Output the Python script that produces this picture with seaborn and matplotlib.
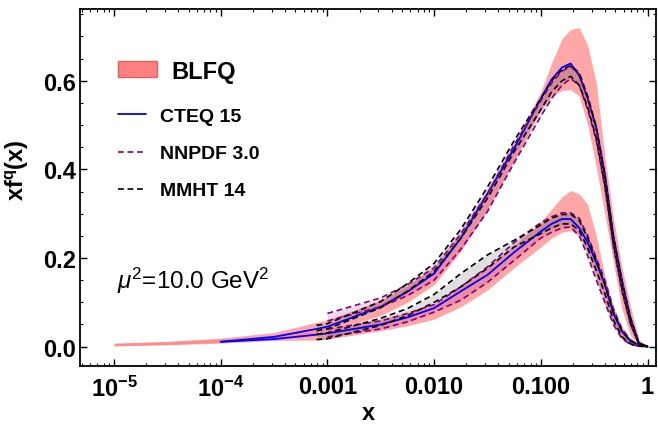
import numpy as np
import pandas as pd
import matplotlib
matplotlib.use("Agg")
import matplotlib.pyplot as plt
import matplotlib.ticker as mtick
from matplotlib.patches import Patch
from matplotlib.lines import Line2D
import seaborn as sns

nan = np.nan

# ============================================================
# DATA
# ============================================================
X = [1e-5, 3.16e-5, 1e-4, 3.16e-4, 7.9e-4, 1e-3, 3.16e-3, 5.62e-3, 1e-2, 0.0178, 0.0316,
     0.0562, 0.1, 0.126, 0.158, 0.19, 0.229, 0.275, 0.331, 0.398, 0.479,
     0.575, 0.692, 0.832, 1.0]

# BLFQ bands (upper family = u, lower family = d)
BLFQ_U_LO = [0.002, 0.005, 0.010, 0.018, 0.030, 0.034, 0.070, 0.100, 0.140, 0.215, 0.310,
             0.420, 0.535, 0.565, 0.578, 0.580, 0.565, 0.500, 0.405, 0.300, 0.190,
             0.085, 0.025, 0.003, 0.0]
BLFQ_U_HI = [0.008, 0.012, 0.019, 0.032, 0.055, 0.060, 0.105, 0.138, 0.180, 0.260, 0.355,
             0.460, 0.575, 0.640, 0.695, 0.716, 0.720, 0.680, 0.595, 0.430, 0.290,
             0.180, 0.090, 0.015, 0.001]
BLFQ_D_LO = [0.002, 0.004, 0.008, 0.014, 0.015, 0.017, 0.036, 0.047, 0.062, 0.090, 0.128,
             0.178, 0.225, 0.245, 0.258, 0.262, 0.250, 0.210, 0.155, 0.095, 0.045,
             0.018, 0.006, 0.002, 0.0]
BLFQ_D_HI = [0.007, 0.011, 0.017, 0.026, 0.036, 0.040, 0.062, 0.078, 0.098, 0.135, 0.178,
             0.228, 0.282, 0.310, 0.338, 0.352, 0.345, 0.320, 0.250, 0.160, 0.090,
             0.045, 0.018, 0.005, 0.001]

# CTEQ 15 central lines
CTEQ_U = [nan, nan, 0.011, 0.022, 0.040, 0.045, 0.090, 0.124, 0.165, 0.245, 0.345,
          0.447, 0.560, 0.603, 0.630, 0.639, 0.612, 0.560, 0.495, 0.390, 0.250,
          0.150, 0.065, 0.007, 0.0]
CTEQ_D = [nan, nan, 0.011, 0.017, 0.027, 0.030, 0.050, 0.066, 0.087, 0.125, 0.162,
          0.213, 0.260, 0.277, 0.288, 0.288, 0.268, 0.235, 0.190, 0.140, 0.075,
          0.035, 0.012, 0.004, 0.0]

# NNPDF 3.0 bands
NNPDF_U_LO = [nan] * 5 + [0.058, 0.090, 0.115, 0.150, 0.220, 0.305, 0.415, 0.520, 0.560, 0.590,
                          0.605, 0.590, 0.535, 0.465, 0.360, 0.225, 0.125, 0.050, 0.004, 0.0]
NNPDF_U_HI = [nan] * 5 + [0.075, 0.110, 0.140, 0.178, 0.255, 0.345, 0.455, 0.555, 0.595, 0.622,
                          0.632, 0.615, 0.560, 0.490, 0.385, 0.245, 0.145, 0.062, 0.008, 0.001]
NNPDF_D_LO = [nan] * 5 + [0.022, 0.040, 0.056, 0.078, 0.105, 0.145, 0.195, 0.245, 0.258, 0.268,
                          0.270, 0.250, 0.205, 0.150, 0.100, 0.050, 0.018, 0.005, 0.001, 0.0]
NNPDF_D_HI = [nan] * 5 + [0.040, 0.058, 0.075, 0.095, 0.135, 0.180, 0.235, 0.280, 0.293, 0.302,
                          0.302, 0.290, 0.250, 0.200, 0.150, 0.085, 0.040, 0.015, 0.004, 0.001]

# MMHT 14 bands
MMHT_U_LO = [nan] * 4 + [0.036, 0.040, 0.088, 0.125, 0.170, 0.245, 0.335, 0.440, 0.535, 0.575,
                         0.600, 0.610, 0.590, 0.540, 0.470, 0.365, 0.230, 0.130, 0.052, 0.005, 0.0]
MMHT_U_HI = [nan] * 4 + [0.048, 0.052, 0.102, 0.142, 0.188, 0.265, 0.360, 0.465, 0.560, 0.600,
                         0.625, 0.634, 0.618, 0.565, 0.495, 0.385, 0.248, 0.148, 0.064, 0.008, 0.001]
MMHT_D_LO = [nan] * 4 + [0.016, 0.018, 0.048, 0.070, 0.100, 0.135, 0.177, 0.225, 0.255, 0.268,
                         0.277, 0.277, 0.262, 0.222, 0.172, 0.120, 0.060, 0.022, 0.006, 0.001, 0.0]
MMHT_D_HI = [nan] * 4 + [0.028, 0.031, 0.064, 0.086, 0.118, 0.165, 0.207, 0.240, 0.275, 0.290,
                         0.298, 0.299, 0.285, 0.245, 0.195, 0.140, 0.078, 0.035, 0.013, 0.004, 0.001]

XTICKS = [1e-5, 1e-4, 1e-3, 1e-2, 1e-1, 1.0]
XTICK_LABELS = [r"$\mathbf{10^{-5}}$", r"$\mathbf{10^{-4}}$", "0.001", "0.010", "0.100", "1"]
YTICKS = [0.0, 0.2, 0.4, 0.6]
YTICK_LABELS = ["0.0", "0.2", "0.4", "0.6"]

# ============================================================
# STYLE
# ============================================================
sns.set_theme(style="ticks")
plt.rcParams["font.family"] = ["Liberation Sans", "DejaVu Sans"]
plt.rcParams["mathtext.fontset"] = "custom"
plt.rcParams["mathtext.rm"] = "Liberation Sans"
plt.rcParams["mathtext.it"] = "Liberation Sans:italic"
plt.rcParams["mathtext.bf"] = "Liberation Sans:bold"
plt.rcParams["text.color"] = "black"
plt.rcParams["axes.labelcolor"] = "black"
plt.rcParams["xtick.color"] = "black"
plt.rcParams["ytick.color"] = "black"

BLFQ_COLOR = (1.0, 0.5, 0.5)
NNPDF_COLOR = "#800080"
MMHT_COLOR = "black"
CTEQ_COLOR = "#0000FF"
DASH = (0, (3.5, 2.2))

fig = plt.figure(figsize=(6.58, 4.27), dpi=100)
ax = fig.add_axes([80 / 658, 1 - 366.7 / 427, 576 / 658, 356.7 / 427])
ax.set_xscale("log")

x = np.array(X)


def band(lo, hi, fill, alpha, edge=None, z=1):
    lo = np.array(lo, dtype=float)
    hi = np.array(hi, dtype=float)
    ok = ~np.isnan(lo)
    ax.fill_between(x[ok], lo[ok], hi[ok], color=fill, alpha=alpha, lw=0, zorder=z)
    if edge is not None:
        for arr in (lo, hi):
            ax.plot(x[ok], arr[ok], color=edge, ls=DASH, lw=1.2, zorder=z + 3)


# BLFQ
band(BLFQ_U_LO, BLFQ_U_HI, BLFQ_COLOR, 0.7, z=1)
band(BLFQ_D_LO, BLFQ_D_HI, BLFQ_COLOR, 0.7, z=1)
# NNPDF
band(NNPDF_U_LO, NNPDF_U_HI, NNPDF_COLOR, 0.15, NNPDF_COLOR, z=2)
band(NNPDF_D_LO, NNPDF_D_HI, NNPDF_COLOR, 0.15, NNPDF_COLOR, z=2)
# MMHT
band(MMHT_U_LO, MMHT_U_HI, "grey", 0.25, MMHT_COLOR, z=3)
band(MMHT_D_LO, MMHT_D_HI, "grey", 0.25, MMHT_COLOR, z=3)

# CTEQ lines
df = pd.DataFrame({"x": X, "u": CTEQ_U, "d": CTEQ_D})
for col in ["u", "d"]:
    sub = df.dropna(subset=[col])
    sns.lineplot(data=sub, x="x", y=col, color=CTEQ_COLOR, lw=1.3, ax=ax,
                 legend=False, zorder=4.5, sort=False)

# ============================================================
# AXES
# ============================================================
ax.set_xlim(4.8e-6, 1.2)
ax.set_ylim(-0.043, 0.762)
ax.set_xticks(XTICKS)
ax.set_xticklabels(XTICK_LABELS)
ax.xaxis.set_minor_locator(mtick.LogLocator(base=10, subs=np.arange(2, 10), numticks=20))
ax.xaxis.set_minor_formatter(mtick.NullFormatter())
ax.set_yticks(YTICKS)
ax.set_yticklabels(YTICK_LABELS)
ax.yaxis.set_minor_locator(mtick.MultipleLocator(0.05))

ax.tick_params(which="both", direction="in", top=True, right=True, colors="black")
ax.tick_params(which="major", length=5, width=1.0, labelsize=17)
ax.tick_params(which="minor", length=2.5, width=0.8)
ax.tick_params(axis="x", which="major", pad=7)
ax.tick_params(axis="y", which="major", pad=3)
for lab in ax.get_xticklabels() + ax.get_yticklabels():
    lab.set_fontweight("bold")
for sp in ax.spines.values():
    sp.set_color("black")
    sp.set_linewidth(1.3)

ax.set_xlabel("x", fontsize=17, fontweight="bold", labelpad=0)
ax.set_ylabel(r"xf$^{\mathbf{q}}$(x)", fontsize=17, fontweight="bold")
ax.yaxis.set_label_coords(-0.085, 0.55)

fig.text(117 / 658, 1 - 281 / 427, r"$\mu^2$=10.0 GeV$^2$", fontsize=17.5,
         va="center", ha="left")

# ============================================================
# LEGENDS
# ============================================================
h1 = [Patch(facecolor=BLFQ_COLOR, edgecolor="#E06060", lw=1.0)]
leg1 = ax.legend(h1, ["BLFQ"], loc="center left",
                 bbox_to_anchor=(118 / 658, 1 - 72 / 427), bbox_transform=fig.transFigure,
                 frameon=False, borderpad=0, borderaxespad=0,
                 handlelength=1.65, handleheight=0.68, handletextpad=0.6,
                 prop={"size": 17, "weight": "bold"})
ax.add_artist(leg1)

h2 = [Line2D([], [], color=CTEQ_COLOR, lw=1.3),
      Line2D([], [], color=NNPDF_COLOR, lw=1.2, ls=DASH),
      Line2D([], [], color=MMHT_COLOR, lw=1.2, ls=DASH)]
ax.legend(h2, ["CTEQ 15", "NNPDF 3.0", "MMHT 14"], loc="center left",
          bbox_to_anchor=(118 / 658, 1 - 154.5 / 427), bbox_transform=fig.transFigure,
          frameon=False, borderpad=0, borderaxespad=0,
          handlelength=1.45, handletextpad=0.7, labelspacing=1.0,
          prop={"size": 14, "weight": "bold"})

fig.savefig("out.png", dpi=100)
